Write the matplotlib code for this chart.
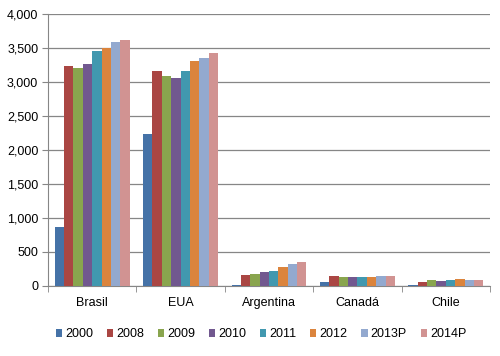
import numpy as np
import matplotlib
matplotlib.use("Agg")
import matplotlib.pyplot as plt
import matplotlib.ticker as mticker

plt.rcParams['font.family'] = ['Liberation Sans', 'DejaVu Sans']

countries = ['Brasil', 'EUA', 'Argentina', 'Canadá', 'Chile']
years = ['2000', '2008', '2009', '2010', '2011', '2012', '2013P', '2014P']

# values per year, one entry per country
v2000 = [870, 2230, 10, 60, 15]
v2008 = [3240, 3160, 165, 150, 60]
v2009 = [3210, 3090, 180, 135, 90]
v2010 = [3270, 3060, 210, 135, 70]
v2011 = [3450, 3160, 220, 135, 90]
v2012 = [3500, 3300, 280, 135, 100]
v2013p = [3590, 3350, 315, 150, 85]
v2014p = [3620, 3420, 350, 150, 85]
series = [v2000, v2008, v2009, v2010, v2011, v2012, v2013p, v2014p]

colors = ['#4572A7', '#AA4643', '#89A54E', '#71588F',
          '#4198AF', '#DB843D', '#93A9CF', '#D19392']

fig = plt.figure(figsize=(5, 3.56), dpi=100)
ax = fig.add_axes([0.096, 0.197, 0.884, 0.764])

x = np.arange(len(countries))
w = 0.106
for i, (vals, c) in enumerate(zip(series, colors)):
    ax.bar(x + (i - 3.5) * w, vals, w, color=c, label=years[i],
           linewidth=0, zorder=3)

ax.set_xlim(-0.5, len(countries) - 0.5)
ax.set_ylim(0, 4000)
ax.yaxis.set_major_locator(mticker.MultipleLocator(500))
ax.yaxis.set_major_formatter(mticker.StrMethodFormatter('{x:,.0f}'))
ax.grid(axis='y', color='#868686', linewidth=0.9, zorder=0)

ax.set_xticks(x)
ax.set_xticklabels(countries)
ax.set_xticks(np.arange(len(countries) + 1) - 0.5, minor=True)
ax.tick_params(axis='x', which='major', length=0, labelsize=9, pad=8)
ax.tick_params(axis='x', which='minor', length=4, color='#868686')
ax.tick_params(axis='y', length=4, color='#868686', labelsize=9, pad=3)

for s in ['top', 'right']:
    ax.spines[s].set_visible(False)
for s in ['left', 'bottom']:
    ax.spines[s].set_color('#868686')

ax.legend(loc='upper center', bbox_to_anchor=(0.482, -0.115), ncol=8,
          frameon=False, fontsize=9, handlelength=0.5, handleheight=0.5,
          handletextpad=0.25, columnspacing=1.1)

fig.savefig('out.png', dpi=100)
